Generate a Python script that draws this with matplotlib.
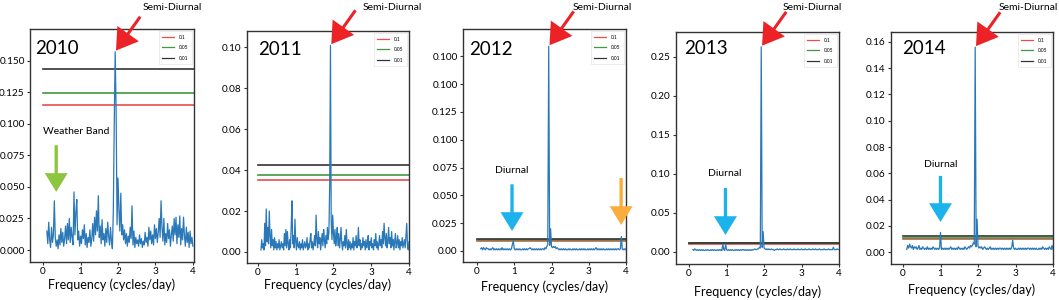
import numpy as np
import matplotlib
matplotlib.use('Agg')
import matplotlib.pyplot as plt

plt.rcParams['font.family'] = ['Lato', 'DejaVu Sans']

# ---------------- data ----------------
years = ['2010', '2011', '2012', '2013', '2014']
sig_labels = ['0.1', '0.05', '0.01']
freq_start = [0.1, 0.08, 0.1, 0.1, 0.1]
freq_stop = 4.0

power_2010 = [
    0.015, 0.005, 0.022, 0.008, 0.002, 0.018, 0.006, 0.012, 0.039,
    0.010, 0.003, 0.008, 0.001, 0.012, 0.004, 0.017, 0.006,
    0.014, 0.003, 0.009, 0.019, 0.005, 0.021, 0.008, 0.025,
    0.006, 0.018, 0.010, 0.004, 0.046, 0.012, 0.030, 0.040,
    0.008, 0.015, 0.003, 0.011, 0.005, 0.016, 0.009, 0.020,
    0.004, 0.013, 0.002, 0.010, 0.006, 0.016, 0.003, 0.009,
    0.021, 0.007, 0.026, 0.012, 0.031, 0.015, 0.043, 0.010,
    0.019, 0.005, 0.024, 0.008, 0.013, 0.003, 0.017, 0.006,
    0.022, 0.011, 0.004, 0.018, 0.007, 0.001, 0.030, 0.100,
    0.157, 0.110, 0.020, 0.057, 0.032, 0.015, 0.045, 0.012,
    0.020, 0.008, 0.016, 0.005, 0.013, 0.003, 0.011, 0.006,
    0.018, 0.009, 0.035, 0.004, 0.015, 0.002, 0.010, 0.005,
    0.008, 0.003, 0.012, 0.005, 0.009, 0.002, 0.007, 0.004,
    0.014, 0.006, 0.010, 0.003, 0.018, 0.008, 0.015, 0.005,
    0.012, 0.004, 0.020, 0.009, 0.017, 0.006, 0.014, 0.025,
    0.010, 0.039, 0.018, 0.007, 0.025, 0.004, 0.013, 0.006,
    0.021, 0.009, 0.016, 0.003, 0.012, 0.019, 0.007, 0.025,
    0.012, 0.026, 0.005, 0.020, 0.010, 0.027, 0.004, 0.017,
    0.008, 0.026, 0.011, 0.003, 0.018, 0.006, 0.014, 0.002,
    0.015, 0.005, 0.010, 0.003,
]

power_2011 = [
    0.001, 0.006, 0.002, 0.004, 0.001, 0.014, 0.003, 0.021, 0.005, 0.012,
    0.004, 0.020, 0.008, 0.002, 0.011, 0.003, 0.006, 0.001, 0.007, 0.002,
    0.005, 0.001, 0.004, 0.002, 0.006, 0.001, 0.003, 0.005, 0.002, 0.004,
    0.001, 0.009, 0.003, 0.011, 0.002, 0.010, 0.004, 0.001, 0.006, 0.002,
    0.012, 0.025, 0.004, 0.008, 0.002, 0.016, 0.005, 0.001, 0.007, 0.003,
    0.002, 0.005, 0.001, 0.004, 0.002, 0.006, 0.001, 0.003, 0.005, 0.002,
    0.003, 0.007, 0.001, 0.004, 0.002, 0.006, 0.009, 0.002, 0.005, 0.001,
    0.004, 0.008, 0.003, 0.018, 0.006, 0.002, 0.010, 0.004, 0.007, 0.001,
    0.005, 0.009, 0.003, 0.011, 0.006, 0.002, 0.008, 0.004, 0.012, 0.006,
    0.010, 0.033, 0.101, 0.015, 0.006, 0.018, 0.009, 0.004, 0.011, 0.003,
    0.007, 0.012, 0.003, 0.009, 0.002, 0.006, 0.012, 0.004, 0.001, 0.005,
    0.003, 0.008, 0.002, 0.011, 0.004, 0.001, 0.006, 0.002, 0.005, 0.001,
    0.004, 0.002, 0.007, 0.001, 0.005, 0.003, 0.008, 0.002, 0.004, 0.012,
    0.003, 0.006, 0.001, 0.004, 0.002, 0.007, 0.003, 0.005, 0.001, 0.006,
    0.002, 0.004, 0.008, 0.001, 0.005, 0.003, 0.007, 0.002, 0.004, 0.001,
    0.006, 0.003, 0.009, 0.002, 0.005, 0.001, 0.004, 0.008, 0.003, 0.006,
    0.002, 0.010, 0.004, 0.014, 0.007, 0.003, 0.009, 0.002, 0.005, 0.012,
    0.004, 0.007, 0.002, 0.010, 0.003, 0.006, 0.001, 0.005, 0.009, 0.002,
    0.004, 0.008, 0.002, 0.006, 0.001, 0.005, 0.003, 0.007, 0.002, 0.004,
    0.006, 0.002, 0.008, 0.014, 0.003, 0.001, 0.005,
]

# values in thousandths
power_2012_milli = [
    2, 3, 1, 3, 2, 1, 3, 2, 2, 1,
    2, 1, 2, 3, 1, 2, 1, 2, 1, 2,
    1, 2, 1, 3, 1, 2, 1, 2, 1, 2,
    1, 2, 1, 2, 6, 9, 2, 1, 2, 1,
    2, 1, 2, 1, 1, 2, 1, 2, 1, 2,
    1, 2, 2, 3, 2, 1, 2, 1, 2, 1,
    2, 1, 2, 1, 2, 1, 2, 2, 1, 3,
    2, 4, 6, 184, 5, 20, 4, 3, 4, 3,
    4, 2, 3, 2, 1, 2, 1, 2, 1, 2,
    1, 2, 1, 1, 2, 1, 2, 1, 1, 2,
    1, 2, 1, 2, 1, 1, 2, 1, 2, 1,
    2, 1, 2, 1, 1, 2, 1, 2, 1, 2,
    1, 2, 1, 2, 3, 1, 2, 1, 2, 1,
    2, 1, 2, 1, 1, 2, 1, 2, 1, 2,
    1, 2, 1, 2, 1, 2, 1, 2, 2, 1,
    2, 13, 2, 1, 2, 1, 2,
]

power_2013_milli = [
    3, 2, 4, 3, 2, 3, 2, 3, 2, 3,
    2, 3, 2, 2, 3, 2, 3, 2, 2, 3,
    2, 3, 2, 3, 2, 2, 3, 2, 3, 2,
    3, 2, 10, 3, 2, 10, 3, 2, 3, 2,
    3, 2, 3, 2, 2, 3, 2, 3, 2, 3,
    2, 3, 2, 3, 3, 2, 3, 2, 3, 2,
    3, 2, 3, 2, 3, 3, 4, 3, 3, 4,
    4, 6, 5, 263, 6, 26, 5, 4, 3, 4,
    3, 4, 3, 3, 4, 3, 3, 2, 3, 3,
    4, 3, 3, 4, 3, 3, 3, 4, 3, 3,
    3, 4, 3, 3, 4, 3, 3, 3, 4, 3,
    3, 3, 4, 3, 3, 3, 4, 3, 3, 3,
    4, 3, 3, 3, 4, 3, 3, 3, 4, 3,
    3, 4, 3, 3, 3, 4, 3, 3, 3, 3,
    4, 3, 3, 3, 3, 4, 3, 3, 3, 3,
    6, 3, 3, 3, 4, 3, 3,
]

power_2014_milli = [
    2, 5, 3, 6, 4, 3, 5, 2, 4, 3,
    4, 2, 3, 5, 2, 3, 2, 4, 3, 2,
    3, 2, 4, 2, 3, 2, 3, 2, 4, 3,
    2, 3, 2, 3, 2, 3, 15, 2, 3, 2,
    3, 2, 3, 2, 3, 2, 3, 4, 2, 3,
    2, 3, 2, 3, 2, 4, 3, 2, 3, 2,
    3, 2, 4, 3, 2, 3, 4, 3, 5, 4,
    5, 7, 6, 156, 4, 25, 5, 3, 4, 3,
    4, 2, 3, 4, 3, 2, 3, 2, 3, 4,
    2, 3, 2, 3, 2, 3, 2, 3, 2, 3,
    3, 2, 3, 2, 3, 2, 3, 2, 3, 2,
    3, 2, 4, 9, 3, 2, 3, 2, 2, 3,
    2, 3, 2, 3, 2, 3, 2, 3, 2, 3,
    3, 2, 3, 2, 3, 2, 3, 2, 3, 2,
    2, 3, 2, 3, 2, 4, 3, 2, 3, 2,
    3, 2, 4, 3, 2, 5, 2,
]

power_2012 = [v / 1000 for v in power_2012_milli]
power_2013 = [v / 1000 for v in power_2013_milli]
power_2014 = [v / 1000 for v in power_2014_milli]

# significance levels: 0.1 (red), 0.05 (green), 0.01 (black)
sig_2010 = [0.115, 0.124, 0.143]
sig_2011 = [0.035, 0.0375, 0.0425]
sig_2012 = [0.0090, 0.0095, 0.0105]
sig_2013 = [0.0105, 0.0110, 0.0115]
sig_2014 = [0.0100, 0.0110, 0.0120]

powers = [power_2010, power_2011, power_2012, power_2013, power_2014]
sigs = [sig_2010, sig_2011, sig_2012, sig_2013, sig_2014]

yticks = [
    [0.0, 0.025, 0.05, 0.075, 0.1, 0.125, 0.15],
    [0.0, 0.02, 0.04, 0.06, 0.08, 0.10],
    [0.0, 0.025, 0.05, 0.075, 0.1, 0.125, 0.15, 0.175],
    [0.0, 0.05, 0.10, 0.15, 0.20, 0.25],
    [0.0, 0.02, 0.04, 0.06, 0.08, 0.10, 0.12, 0.14, 0.16],
]
ytick_labels = [
    ['0.000', '0.025', '0.050', '0.075', '0.100', '0.125', '0.150'],
    ['0.00', '0.02', '0.04', '0.06', '0.08', '0.10'],
    ['0.00', '0.025', '0.050', '0.075', '0.100', '0.125', '0.100', '0.100'],
    ['0.00', '0.05', '0.10', '0.15', '0.20', '0.25'],
    ['0.00', '0.02', '0.04', '0.06', '0.08', '0.10', '0.12', '0.14', '0.16'],
]
xticks = [0, 1, 2, 3, 4]

# ---------------- layout ----------------
W, H = 1059, 300
boxes_px = [(30, 29, 194, 262), (247, 31, 409, 263), (463, 29, 626, 262),
            (676, 32, 839, 264), (891, 32, 1053, 264)]
xlims = [(-0.35, 4.03), (-0.29, 4.0), (-0.376, 4.0), (-0.35, 3.99), (-0.32, 4.0)]
ylims = [(-0.0095, 0.175), (-0.0054, 0.108), (-0.0099, 0.1996),
         (-0.0154, 0.282), (-0.0091, 0.1676)]
year_pos = [(0.03, 0.915), (0.068, 0.922), (0.037, 0.914), (0.049, 0.927), (0.068, 0.927)]
xlabel_y = [-0.099, -0.095, -0.107, -0.121, -0.112]
semi_text_px = [(172, 7), (392, 7), (602, 7), (812, 7), (1028, 7)]

LINE = '#2a78b8'
SIG_COLORS = ['#ee4b4b', '#3f9a3f', '#333333']
RED = '#ec2227'
BLUE = '#1cb2ec'
GREEN = '#8cc63f'
ORANGE = '#fbad3c'

fig = plt.figure(figsize=(W / 100, H / 100), dpi=100)
fig.patch.set_facecolor('white')

red_style = 'simple,head_length=15,head_width=19,tail_width=2.2'
down_style = 'simple,head_length=13.5,head_width=16.5,tail_width=2.4'

axes = []
for i in range(5):
    x0, y0, x1, y1 = boxes_px[i]
    ax = fig.add_axes([x0 / W, 1 - y1 / H, (x1 - x0) / W, (y1 - y0) / H])
    axes.append(ax)
    p = np.asarray(powers[i])
    f = np.linspace(freq_start[i], freq_stop, len(p))
    for lvl, c, lab in zip(sigs[i], SIG_COLORS, sig_labels):
        ax.plot([0, 4.05], [lvl, lvl], color=c, lw=1.2, label=lab, zorder=2)
    ax.plot(f, p, color=LINE, lw=0.9, zorder=3)
    ax.set_xlim(*xlims[i])
    ax.set_ylim(*ylims[i])
    ax.set_xticks(xticks)
    ax.set_xticklabels([str(t) for t in xticks])
    ax.set_yticks(yticks[i])
    ax.set_yticklabels(ytick_labels[i])
    ax.tick_params(axis='both', labelsize=7.2, length=2.5, width=0.8,
                   direction='out', color='#333333')
    ax.tick_params(axis='x', pad=1.0)
    ax.tick_params(axis='y', pad=1.2)
    for s in ax.spines.values():
        s.set_color('#333333')
        s.set_linewidth(1.0)
    ax.set_xlabel('Frequency (cycles/day)', fontsize=9)
    ax.xaxis.label.set_va('center')
    ax.xaxis.set_label_coords(0.5, xlabel_y[i])
    ax.text(year_pos[i][0], year_pos[i][1], years[i], transform=ax.transAxes,
            fontsize=13.5, va='center', ha='left')
    leg = ax.legend(loc='upper right', fontsize=3.5, handlelength=2.4,
                    handletextpad=1.0, borderpad=0.7, labelspacing=1.1,
                    borderaxespad=0.5, frameon=True, fancybox=False)
    leg.get_frame().set_edgecolor('#dddddd')
    leg.get_frame().set_linewidth(0.5)
    for lh in leg.get_lines():
        lh.set_linewidth(0.9)

    # Semi-diurnal red arrow pointing at the main peak
    k = int(np.argmax(p))
    ax.annotate('', xy=(f[k], p[k]), xytext=(25, 35), textcoords='offset pixels',
                arrowprops=dict(arrowstyle=red_style, mutation_scale=1, color=RED,
                                shrinkA=0, shrinkB=1, lw=0),
                annotation_clip=False, zorder=5)
    fig.text(semi_text_px[i][0] / W, 1 - semi_text_px[i][1] / H, 'Semi-Diurnal',
             fontsize=7.5, ha='center', va='center')


def down_arrow(ax, x, y_tip, y_tail, color):
    ax.annotate('', xy=(x, y_tip), xytext=(x, y_tail),
                arrowprops=dict(arrowstyle=down_style, mutation_scale=1, color=color,
                                shrinkA=0, shrinkB=0, lw=0),
                annotation_clip=False, zorder=5)


# Weather band (2010)
down_arrow(axes[0], 0.35, 0.046, 0.083, GREEN)
axes[0].text(0.88, 0.0937, 'Weather Band', fontsize=7.5, ha='center', va='center')
# Diurnal arrows
down_arrow(axes[2], 0.94, 0.018, 0.060, BLUE)
axes[2].text(0.94, 0.072, 'Diurnal', fontsize=7.5, ha='center', va='center')
down_arrow(axes[2], 3.87, 0.0234, 0.0656, ORANGE)
down_arrow(axes[3], 0.97, 0.0218, 0.082, BLUE)
axes[3].text(0.94, 0.100, 'Diurnal', fontsize=7.5, ha='center', va='center')
down_arrow(axes[4], 1.0, 0.0229, 0.058, BLUE)
axes[4].text(1.0, 0.067, 'Diurnal', fontsize=7.5, ha='center', va='center')

fig.savefig('out.png', dpi=100, facecolor='white')
